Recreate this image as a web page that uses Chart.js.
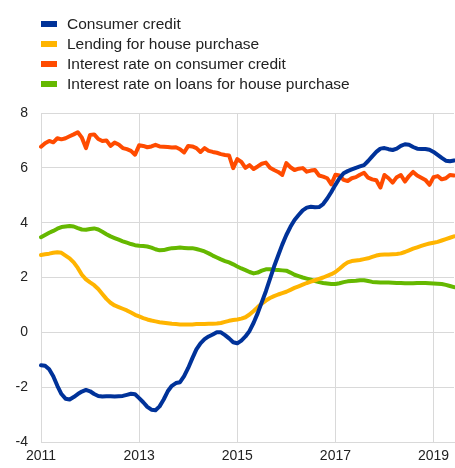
<!DOCTYPE html>
<html>
<head>
<meta charset="utf-8">
<script src="https://cdn.jsdelivr.net/npm/chart.js@4.4.1/dist/chart.umd.min.js"></script>
<style>
  html, body { margin: 0; padding: 0; background: #fff; }
  #wrap { position: relative; width: 455px; height: 468px; }
  #legend { position: absolute; left: 0; top: 14px; font-family: "Liberation Sans", Arial, sans-serif; font-size: 15.5px; color: #222; }
  .row { position: relative; height: 20px; line-height: 20px; width: 455px; }
  .sw { position: absolute; left: 41px; top: 7px; width: 16px; height: 6px; }
  .tx { position: absolute; left: 67px; top: 0; white-space: nowrap; }
  canvas { position: absolute; left: 0; top: 0; }
</style>
</head>
<body>
<div id="wrap">
  <canvas id="c" width="455" height="468"></canvas>
  <div id="legend"></div>
</div>
<script>
// ---- Data (monthly, Jan 2011 – Jun 2019) ----
const years = [2011, 2012, 2013, 2014, 2015, 2016, 2017, 2018, 2019];
const lastYearMonths = 6;
const yearTickLabels = ["2011", "2013", "2015", "2017", "2019"];
const yTicks = [-4, -2, 0, 2, 4, 6, 8];

const seriesNames = [
  "Consumer credit",
  "Lending for house purchase",
  "Interest rate on consumer credit",
  "Interest rate on loans for house purchase"
];
const seriesColors = ["#003299", "#ffb400", "#ff4b00", "#65b800"];

const consumerCredit = [
  -1.2, -1.22, -1.35, -1.6, -1.95, -2.25, -2.42, -2.45, -2.36, -2.25, -2.16, -2.1,
  -2.15, -2.25, -2.32, -2.34, -2.33, -2.33, -2.34, -2.33, -2.32, -2.28, -2.24, -2.26,
  -2.4, -2.55, -2.72, -2.82, -2.84, -2.7, -2.45, -2.15, -1.95, -1.85, -1.82, -1.6,
  -1.3, -0.95, -0.62, -0.4, -0.25, -0.15, -0.08, 0.0, 0.0, -0.1, -0.22, -0.36,
  -0.4, -0.3, -0.15, 0.05, 0.35, 0.7, 1.1, 1.5, 1.95, 2.4, 2.8, 3.2,
  3.55, 3.85, 4.1, 4.28, 4.45, 4.55, 4.58, 4.56, 4.57, 4.68, 4.88, 5.12,
  5.38, 5.62, 5.8, 5.88, 5.94, 6.0, 6.05, 6.1, 6.25, 6.42, 6.58, 6.7,
  6.72, 6.68, 6.65, 6.7, 6.8, 6.86, 6.84, 6.76, 6.7, 6.69, 6.69, 6.66,
  6.58, 6.47, 6.36, 6.26, 6.24, 6.27
];
const lendingHouse = [
  2.82, 2.85, 2.87, 2.9, 2.92, 2.9, 2.8, 2.7, 2.55, 2.35, 2.1, 1.93,
  1.82, 1.72, 1.58, 1.4, 1.22, 1.08, 0.98, 0.92, 0.86, 0.8, 0.72, 0.64,
  0.58, 0.52, 0.47, 0.43, 0.4, 0.37, 0.35, 0.33, 0.31, 0.3, 0.29, 0.29,
  0.29, 0.29, 0.3, 0.3, 0.3, 0.31, 0.31, 0.32, 0.34, 0.38, 0.42, 0.45,
  0.47, 0.5, 0.55, 0.65, 0.78, 0.92, 1.05, 1.16, 1.25, 1.32, 1.38, 1.43,
  1.48, 1.55, 1.62, 1.68, 1.74, 1.8, 1.85, 1.9, 1.95, 2.0, 2.06, 2.12,
  2.2, 2.32, 2.45, 2.55, 2.6, 2.62, 2.64, 2.67, 2.7, 2.75, 2.8, 2.83,
  2.84, 2.84, 2.85, 2.86, 2.88, 2.93, 2.99, 3.05, 3.1, 3.15, 3.2, 3.24,
  3.27, 3.3, 3.35, 3.4, 3.45, 3.5
];
const rateConsumer = [
  6.77, 6.9, 6.98, 6.93, 7.08, 7.04, 7.08, 7.15, 7.22, 7.3, 7.1, 6.72,
  7.2, 7.22, 7.05, 6.98, 7.0, 6.8, 6.92, 6.85, 6.72, 6.68, 6.62, 6.48,
  6.82, 6.8, 6.75, 6.78, 6.84, 6.78, 6.77, 6.76, 6.74, 6.75, 6.68, 6.56,
  6.8, 6.78, 6.72, 6.58, 6.72, 6.62, 6.58, 6.55, 6.5, 6.47, 6.45, 5.99,
  6.32, 6.22, 6.0, 6.1, 5.96, 6.05, 6.15, 6.19, 6.0, 5.92, 5.85, 5.74,
  6.17, 6.02, 5.92, 5.97, 5.99, 5.86, 5.9, 5.92, 5.72, 5.68, 5.62, 5.4,
  5.75, 5.72, 5.56, 5.52, 5.62, 5.66, 5.75, 5.82, 5.64, 5.58, 5.55, 5.28,
  5.74, 5.62, 5.46, 5.66, 5.74, 5.5, 5.7, 5.85, 5.72, 5.64, 5.56, 5.38,
  5.66, 5.7, 5.58, 5.62, 5.74, 5.72
];
const rateHouse = [
  3.47, 3.55, 3.63, 3.7, 3.78, 3.84, 3.86, 3.88, 3.86, 3.8, 3.75, 3.74,
  3.77, 3.79, 3.75, 3.67, 3.58, 3.5, 3.44, 3.38, 3.32, 3.27, 3.22, 3.18,
  3.16, 3.15, 3.13, 3.09, 3.03, 2.99, 3.0, 3.04, 3.07, 3.08, 3.09, 3.08,
  3.07, 3.07, 3.04, 3.0, 2.95, 2.88, 2.8, 2.73, 2.66, 2.6, 2.55, 2.48,
  2.4, 2.33, 2.27, 2.2, 2.15, 2.18, 2.25, 2.3, 2.3, 2.28, 2.27, 2.26,
  2.25, 2.18, 2.1, 2.05, 2.0, 1.96, 1.92, 1.87, 1.83, 1.8, 1.78, 1.76,
  1.76, 1.79, 1.83, 1.86, 1.87, 1.88, 1.9, 1.9, 1.87, 1.84, 1.83, 1.82,
  1.82, 1.82, 1.81, 1.8, 1.8, 1.79, 1.79, 1.79, 1.8, 1.8, 1.8, 1.79,
  1.78, 1.77, 1.76, 1.73, 1.69, 1.65
];

// month category labels
const labels = [];
years.forEach((y, yi) => {
  const n = (yi === years.length - 1) ? lastYearMonths : 12;
  for (let m = 1; m <= n; m++) labels.push(y + "-" + String(m).padStart(2, "0"));
});
function tickText(i) {
  const l = labels[i];
  if (!l || !l.endsWith("-01")) return "";
  const y = l.slice(0, 4);
  return yearTickLabels.includes(y) ? y : "";
}

// legend (HTML)
const leg = document.getElementById("legend");
seriesNames.forEach((n, i) => {
  const r = document.createElement("div"); r.className = "row";
  const s = document.createElement("span"); s.className = "sw"; s.style.background = seriesColors[i];
  const t = document.createElement("span"); t.className = "tx"; t.textContent = n;
  r.appendChild(s); r.appendChild(t); leg.appendChild(r);
});

const seriesData = [consumerCredit, lendingHouse, rateConsumer, rateHouse];
const gridCol = "#d9d9d9";
const font = { family: "'Liberation Sans', Arial, sans-serif", size: 14 };

new Chart(document.getElementById("c"), {
  type: "line",
  data: {
    labels: labels,
    datasets: seriesNames.map((n, i) => ({
      label: n,
      data: seriesData[i],
      borderColor: seriesColors[i],
      backgroundColor: seriesColors[i],
      borderWidth: 4,
      pointRadius: 0,
      tension: 0,
      fill: false,
      borderJoinStyle: "round",
      borderCapStyle: "round"
    }))
  },
  options: {
    responsive: false,
    animation: false,
    events: [],
    layout: { padding: { top: 113, right: 1, left: 0, bottom: 0 } },
    plugins: { legend: { display: false }, tooltip: { enabled: false } },
    scales: {
      x: {
        type: "category",
        offset: false,
        afterFit: (s) => { s.height = 26; s.paddingRight = 0; s.paddingLeft = 0; },
        grid: {
          drawTicks: false,
          color: (c) => tickText(c.index) ? gridCol : "rgba(0,0,0,0)",
          lineWidth: 1
        },
        border: { color: gridCol, width: 1 },
        ticks: {
          autoSkip: false, maxRotation: 0, minRotation: 0, padding: 6,
          color: "#222", font: font,
          callback: (v, i) => tickText(i)
        }
      },
      y: {
        min: yTicks[0], max: yTicks[yTicks.length - 1],
        afterFit: (s) => { s.width = 41; },
        afterBuildTicks: (s) => { s.ticks = yTicks.map(v => ({ value: v })); },
        grid: { drawTicks: false, color: gridCol, lineWidth: 1 },
        border: { color: gridCol, width: 1 },
        ticks: { padding: 13, color: "#222", font: font }
      }
    }
  }
});
</script>
</body>
</html>
